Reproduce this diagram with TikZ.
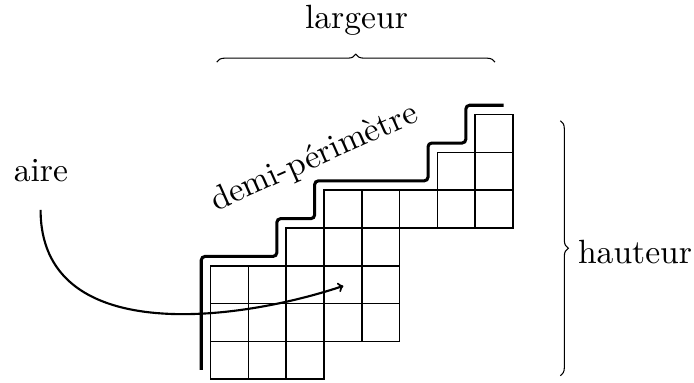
\documentclass[tikz,border=0pt]{standalone}
\usetikzlibrary{decorations.pathreplacing}
\begin{document}
\begin{tikzpicture}[x=1cm,y=1cm,
  cell/.style={draw, line width=1.2pt},
  perim/.style={line width=2.3pt, rounded corners=0.1cm},
  lab/.style={scale=2.53, inner sep=0pt},
  bracedeco/.style={decorate, decoration={brace, amplitude=6pt}, line width=0.8pt},
  arrowline/.style={->, line width=1.6pt}]
\useasboundingbox (-5.574,-0.098) rectangle (12.786,10.034);
% grid of cells
\foreach \x/\ylo/\yhi in {0/0/2,1/0/2,2/0/3,3/1/4,4/1/4,5/4/4,6/4/5,7/4/6}{
  \foreach \y in {\ylo,...,\yhi}{
    \draw[cell] (\x,\y) rectangle ++(1,1);
  }
}
% demi-perimetre line
\draw[perim] (-0.25,0.25) -- (-0.25,3.25) -- (1.75,3.25) -- (1.75,4.25) -- (2.75,4.25)
  -- (2.75,5.25) -- (5.75,5.25) -- (5.75,6.25) -- (6.75,6.25) -- (6.75,7.25) -- (7.75,7.25);
% labels
\node[lab, anchor=base] (largeur) at (3.857,9.29) {largeur};
\node[lab, anchor=base west] (hauteur) at (9.70,3.07) {hauteur};
\node[lab, anchor=base] (aire) at (-4.49,5.22) {aire};
\node[lab, anchor=base, rotate=24] (demi) at (2.84,5.64) {demi-périmètre};
% braces
\coordinate (bl) at (0.159,8.39);
\coordinate (br) at (7.52,8.39);
\draw[bracedeco] (bl) -- (br);
\coordinate (ht) at (9.25,6.84);
\coordinate (hb) at (9.25,0.095);
\draw[bracedeco] (ht) -- (hb);
% arrow
\coordinate (as) at (-4.5,4.48);
\coordinate (ae) at (3.51,2.47);
\draw[arrowline] (as) .. controls (-4.5,0.9) and (0.6,1.5) .. (ae);
\end{tikzpicture}
\end{document}
